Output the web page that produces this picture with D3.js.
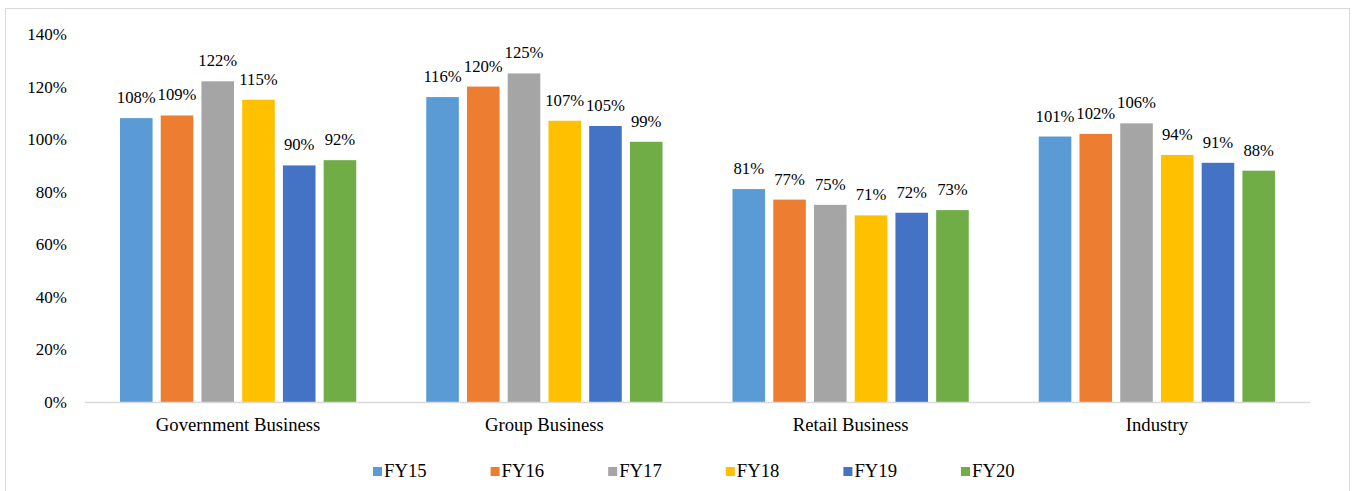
<!DOCTYPE html>
<html>
<head>
<meta charset="utf-8">
<script src="https://cdn.jsdelivr.net/npm/d3@7"></script>
<style>
  body { margin: 0; background: #fff; }
  text { font-family: "Liberation Serif", "Times New Roman", serif; fill: #000; }
</style>
</head>
<body>
<div id="chart"></div>
<script>
// categories and series
var categories = ["Government Business", "Group Business", "Retail Business", "Industry"];
var series = ["FY15", "FY16", "FY17", "FY18", "FY19", "FY20"];
var colors = ["#5B9BD5", "#ED7D31", "#A5A5A5", "#FFC000", "#4472C4", "#70AD47"];

// values per series, in category order
var fy15 = [108, 116, 81, 101];
var fy16 = [109, 120, 77, 102];
var fy17 = [122, 125, 75, 106];
var fy18 = [115, 107, 71, 94];
var fy19 = [90, 105, 72, 91];
var fy20 = [92, 99, 73, 88];
var values = [fy15, fy16, fy17, fy18, fy19, fy20];

var yTicks = [0, 20, 40, 60, 80, 100, 120, 140];

var width = 1354, height = 491;
var plotLeft = 85, plotRight = 1310, plotTop = 34, plotBottom = 402;

var svg = d3.select("#chart").append("svg")
	.attr("width", width)
	.attr("height", height);

// chart border
svg.append("rect")
	.attr("x", 5.5).attr("y", 8.5)
	.attr("width", 1344).attr("height", 490)
	.attr("fill", "none")
	.attr("stroke", "#d9d9d9")
	.attr("stroke-width", 1);

var x0 = d3.scaleBand().domain(categories).range([plotLeft, plotRight]);
var x1 = d3.scaleBand().domain(series)
	.range([35, x0.bandwidth() - 35])
	.paddingInner(0.2);
var y = d3.scaleLinear().domain([0, 140]).range([plotBottom, plotTop]);

// y axis labels
svg.append("g").selectAll("text")
	.data(yTicks)
	.enter().append("text")
	.attr("x", 67)
	.attr("y", function(d){ return y(d) + 6; })
	.attr("text-anchor", "end")
	.attr("font-size", "17px")
	.text(function(d){ return d + "%"; });

// bars and labels
series.forEach(function(s, si){
	var g = svg.append("g");
	g.selectAll("rect")
		.data(values[si])
		.enter().append("rect")
		.attr("x", function(d, i){ return x0(categories[i]) + x1(s); })
		.attr("y", function(d){ return y(d); })
		.attr("width", x1.bandwidth())
		.attr("height", function(d){ return y(0) - y(d); })
		.attr("fill", colors[si]);
	g.selectAll("text")
		.data(values[si])
		.enter().append("text")
		.attr("x", function(d, i){ return x0(categories[i]) + x1(s) + x1.bandwidth() / 2; })
		.attr("y", function(d){ return y(d) - 15; })
		.attr("text-anchor", "middle")
		.attr("font-size", "16.7px")
		.text(function(d){ return d + "%"; });
});

// x axis line
svg.append("line")
	.attr("x1", plotLeft).attr("x2", plotRight)
	.attr("y1", plotBottom + 0.5).attr("y2", plotBottom + 0.5)
	.attr("stroke", "#d9d9d9")
	.attr("stroke-width", 1.5);

// category labels
svg.append("g").selectAll("text")
	.data(categories)
	.enter().append("text")
	.attr("x", function(d){ return x0(d) + x0.bandwidth() / 2; })
	.attr("y", 431)
	.attr("text-anchor", "middle")
	.attr("font-size", "18.7px")
	.text(function(d){ return d; });

// legend
var legend = svg.append("g").selectAll("g")
	.data(series)
	.enter().append("g")
	.attr("transform", function(d, i){ return "translate(" + (373 + i * 117.6) + ",0)"; });
legend.append("rect")
	.attr("x", 0).attr("y", 467)
	.attr("width", 9).attr("height", 9)
	.attr("fill", function(d, i){ return colors[i]; });
legend.append("text")
	.attr("x", 11)
	.attr("y", 477)
	.attr("font-size", "18.7px")
	.text(function(d){ return d; });
</script>
</body>
</html>
